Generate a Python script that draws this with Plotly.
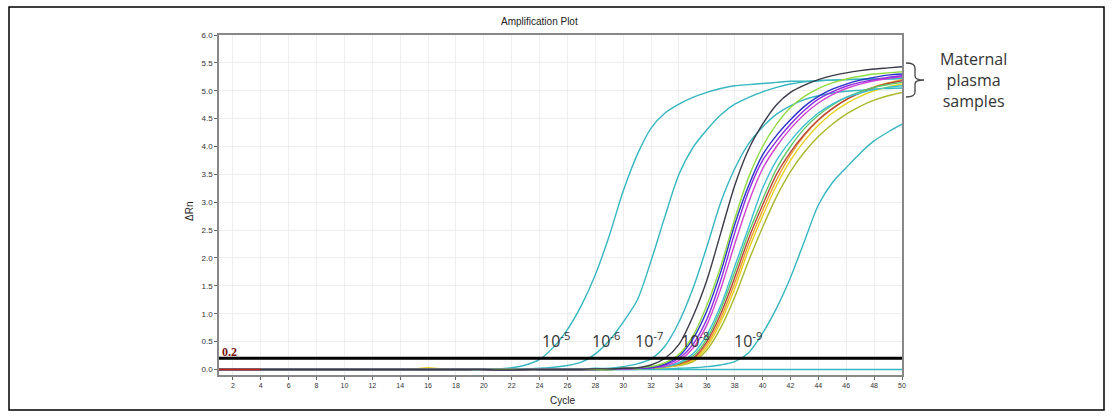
import plotly.graph_objects as go

cycles = list(range(1, 51))
z20 = [0.0] * 20

std_1e5 = z20 + [0.01, 0.03, 0.08, 0.18, 0.40, 0.72, 1.15, 1.70, 2.40, 3.20,
                 3.85, 4.33, 4.60, 4.76, 4.88, 4.97, 5.04, 5.09, 5.11, 5.13,
                 5.15, 5.17, 5.17, 5.18, 5.19, 5.20, 5.20, 5.21, 5.21, 5.22]
std_1e6 = z20 + [0.0, 0.0, 0.01, 0.02, 0.04, 0.07, 0.13, 0.28, 0.52, 0.85,
                 1.24, 1.95, 2.75, 3.50, 3.98, 4.30, 4.57, 4.76, 4.88, 4.98,
                 5.06, 5.12, 5.16, 5.18, 5.19, 5.20, 5.21, 5.21, 5.22, 5.23]
std_1e7 = z20 + [0.0, 0.0, 0.0, 0.0, 0.0, 0.01, 0.01, 0.02, 0.02, 0.05,
                 0.10, 0.19, 0.42, 0.85, 1.45, 2.20, 3.00, 3.60, 4.05, 4.35,
                 4.58, 4.73, 4.84, 4.91, 4.96, 4.99, 5.01, 5.03, 5.04, 5.05]
std_1e9 = z20 + [0.0, 0.0, 0.0, 0.0, 0.0, 0.0, 0.0, 0.0, 0.0, 0.0,
                 0.0, 0.01, 0.01, 0.02, 0.03, 0.05, 0.08, 0.14, 0.30, 0.65,
                 1.10, 1.65, 2.30, 2.95, 3.35, 3.62, 3.88, 4.10, 4.26, 4.40]
ntc = [0.0] * 50

s_black = z20 + [-0.01, -0.01, 0.0, 0.0, 0.0, 0.0, 0.0, 0.01, 0.01, 0.02,
                 0.03, 0.08, 0.20, 0.45, 0.95, 1.60, 2.45, 3.30, 3.95, 4.40,
                 4.75, 4.97, 5.10, 5.20, 5.27, 5.32, 5.36, 5.39, 5.41, 5.43]
s_lime = z20 + [0.0, 0.0, 0.0, 0.0, 0.0, 0.0, 0.0, 0.0, 0.01, 0.02,
                0.03, 0.05, 0.12, 0.27, 0.60, 1.15, 1.85, 2.70, 3.45, 4.00,
                4.40, 4.70, 4.90, 5.04, 5.14, 5.21, 5.26, 5.30, 5.32, 5.34]
s_blue = z20 + [0.0, 0.0, 0.0, 0.0, 0.0, 0.0, 0.0, 0.0, 0.01, 0.02,
                0.03, 0.04, 0.10, 0.24, 0.55, 1.05, 1.75, 2.60, 3.30, 3.85,
                4.20, 4.48, 4.72, 4.90, 5.03, 5.12, 5.19, 5.24, 5.28, 5.30]
s_violet = z20 + [0.0, 0.0, 0.0, 0.0, 0.0, 0.0, 0.0, 0.0, 0.01, 0.01,
                  0.02, 0.03, 0.08, 0.20, 0.45, 0.90, 1.60, 2.45, 3.20, 3.75,
                  4.10, 4.40, 4.65, 4.85, 4.98, 5.08, 5.15, 5.20, 5.24, 5.27]
s_magenta = z20 + [-0.01, -0.01, 0.0, 0.0, 0.0, 0.0, 0.0, 0.0, 0.01, 0.01,
                   0.02, 0.03, 0.06, 0.16, 0.38, 0.80, 1.45, 2.25, 3.00, 3.60,
                   4.00, 4.32, 4.58, 4.78, 4.93, 5.04, 5.12, 5.18, 5.22, 5.25]
s_cyan = z20 + [0.0, 0.0, 0.0, 0.0, 0.0, 0.0, 0.0, 0.0, 0.0, 0.01,
                0.02, 0.03, 0.05, 0.12, 0.28, 0.62, 1.15, 1.85, 2.55, 3.25,
                3.75, 4.10, 4.38, 4.60, 4.76, 4.88, 4.96, 5.02, 5.06, 5.09]
s_green = z20 + [0.0, 0.0, 0.0, 0.0, 0.0, 0.0, 0.0, 0.0, 0.0, 0.01,
                 0.02, 0.03, 0.05, 0.11, 0.24, 0.55, 1.08, 1.75, 2.45, 3.05,
                 3.60, 4.00, 4.32, 4.56, 4.74, 4.88, 4.98, 5.06, 5.11, 5.15]
s_red = z20 + [-0.01, -0.01, -0.01, 0.0, 0.0, 0.0, 0.0, 0.0, 0.0, 0.01,
               0.02, 0.03, 0.05, 0.10, 0.20, 0.50, 1.00, 1.65, 2.35, 2.95,
               3.50, 3.90, 4.22, 4.48, 4.68, 4.84, 4.96, 5.06, 5.13, 5.18]
s_orange = z20 + [0.0, 0.0, 0.0, 0.0, 0.0, 0.0, 0.0, 0.0, 0.0, 0.01,
                  0.02, 0.03, 0.05, 0.09, 0.18, 0.45, 0.92, 1.55, 2.25, 2.85,
                  3.40, 3.85, 4.20, 4.47, 4.68, 4.84, 4.97, 5.07, 5.14, 5.20]
s_yellow = [0.0] * 14 + [0.01, 0.03, 0.01, 0.0, 0.0, 0.0] + \
           [0.0, 0.0, 0.0, 0.0, 0.0, 0.0, 0.0, 0.0, 0.0, 0.01,
            0.02, 0.03, 0.04, 0.08, 0.16, 0.40, 0.85, 1.45, 2.15, 2.75,
            3.30, 3.75, 4.10, 4.38, 4.60, 4.77, 4.90, 5.00, 5.07, 5.12]
s_olive = z20 + [0.0, 0.0, 0.0, 0.0, 0.0, 0.0, 0.0, 0.0, 0.0, 0.01,
                 0.01, 0.02, 0.04, 0.07, 0.14, 0.35, 0.75, 1.30, 1.95, 2.55,
                 3.10, 3.55, 3.90, 4.18, 4.40, 4.58, 4.72, 4.83, 4.91, 4.97]
s_red_start = [0.0, 0.0, 0.0, 0.0]

threshold = 0.2
x_ticks = list(range(2, 51, 2))
y_ticks = [i * 0.5 for i in range(13)]
dilution_labels = ["10<sup>-5</sup>", "10<sup>-6</sup>", "10<sup>-7</sup>",
                   "10<sup>-8</sup>", "10<sup>-9</sup>"]

teal = "#35b6c0"
series = [
    (ntc, teal), (std_1e5, teal), (std_1e6, teal), (std_1e7, teal), (std_1e9, teal),
    (s_olive, "#a9b82a"), (s_yellow, "#e8d21e"), (s_orange, "#f0a030"),
    (s_red, "#b8443a"), (s_green, "#5cc86a"), (s_cyan, "#3cc0d0"),
    (s_magenta, "#d040d0"), (s_violet, "#8a2be2"), (s_blue, "#2a30c8"),
    (s_lime, "#90dc40"), (s_black, "#3a3a48"),
]

fig = go.Figure()
for ys, col in series:
    fig.add_trace(go.Scatter(x=cycles, y=ys, mode="lines",
                             line=dict(color=col, width=1.4, shape="spline",
                                       smoothing=0.8),
                             showlegend=False, hoverinfo="skip"))
fig.add_trace(go.Scatter(x=cycles[:4], y=s_red_start, mode="lines",
                         line=dict(color="#c02020", width=1.5), showlegend=False))
fig.add_trace(go.Scatter(x=[cycles[0], cycles[-1]], y=[threshold, threshold],
                         mode="lines", line=dict(color="black", width=3),
                         showlegend=False))

W, H = 1114, 416
L, R, T, B = 219, 212, 35, 41
pw, ph = W - L - R, H - T - B


def px(x):
    return (x - L) / pw


def py(y):
    return (H - B - y) / ph


def note(text, x, y, size, family, color, **kw):
    return dict(text=text, x=px(x), y=py(y), xref="paper", yref="paper",
                xanchor="center", yanchor="middle", showarrow=False,
                font=dict(family=family, size=size, color=color), **kw)


annos = [
    note("Amplification Plot", 539, 22, 10, "Liberation Sans", "#222"),
    note("Cycle", 562, 400, 10, "Liberation Sans", "#222"),
    note("ΔRn", 190, 212, 10, "Liberation Sans", "#222", textangle=-90),
    note("<b>0.2</b>", 229, 352, 12, "Liberation Serif", "#7a1010"),
    note("Maternal<br>plasma<br>samples", 973, 80, 16, "Open Sans", "#333",
         align="center"),
]
label_px = [556, 606, 649, 695, 748]
for lab, lx in zip(dilution_labels, label_px):
    annos.append(note(lab, lx, 340, 16, "Open Sans", "#333"))

bx0, bx1, bxm = 906, 915, 924
by0, bym, by1 = 63, 80, 97
bracket = (f"M {px(bx0)},{py(by0)} Q {px(bx1)},{py(by0)} {px(bx1)},{py(by0+5)} "
           f"L {px(bx1)},{py(bym-4)} Q {px(bx1)},{py(bym)} {px(bxm)},{py(bym)} "
           f"Q {px(bx1)},{py(bym)} {px(bx1)},{py(bym+4)} "
           f"L {px(bx1)},{py(by1-5)} Q {px(bx1)},{py(by1)} {px(bx0)},{py(by1)}")

shapes = [
    dict(type="path", path=bracket, xref="paper", yref="paper",
         line=dict(color="#444", width=1.3)),
    dict(type="rect", xref="paper", yref="paper", x0=px(9), x1=px(1104),
         y0=py(410), y1=py(7), line=dict(color="black", width=1.5)),
]

fig.update_layout(
    width=W, height=H, margin=dict(l=L, r=R, t=T, b=B),
    paper_bgcolor="white", plot_bgcolor="white",
    annotations=annos, shapes=shapes, showlegend=False,
    xaxis=dict(range=[1, 50], tickvals=x_ticks, ticks="outside", ticklen=3,
               tickcolor="#666", showline=True, linecolor="#888", linewidth=1.5,
               mirror=True, showgrid=True, gridcolor="#eeeeee", zeroline=False,
               tickfont=dict(family="Liberation Sans", size=7, color="#333")),
    yaxis=dict(range=[-0.1, 6.0], tickvals=y_ticks, tickformat=".1f",
               ticks="outside", ticklen=3, tickcolor="#666", showline=True,
               linecolor="#888", linewidth=1.5, mirror=True, showgrid=True,
               gridcolor="#eeeeee", zeroline=False,
               tickfont=dict(family="Liberation Sans", size=8, color="#333")),
)

fig.write_html("out.html", config={"displayModeBar": False},
               post_script="document.body.style.margin='0';document.body.style.overflow='hidden';")
